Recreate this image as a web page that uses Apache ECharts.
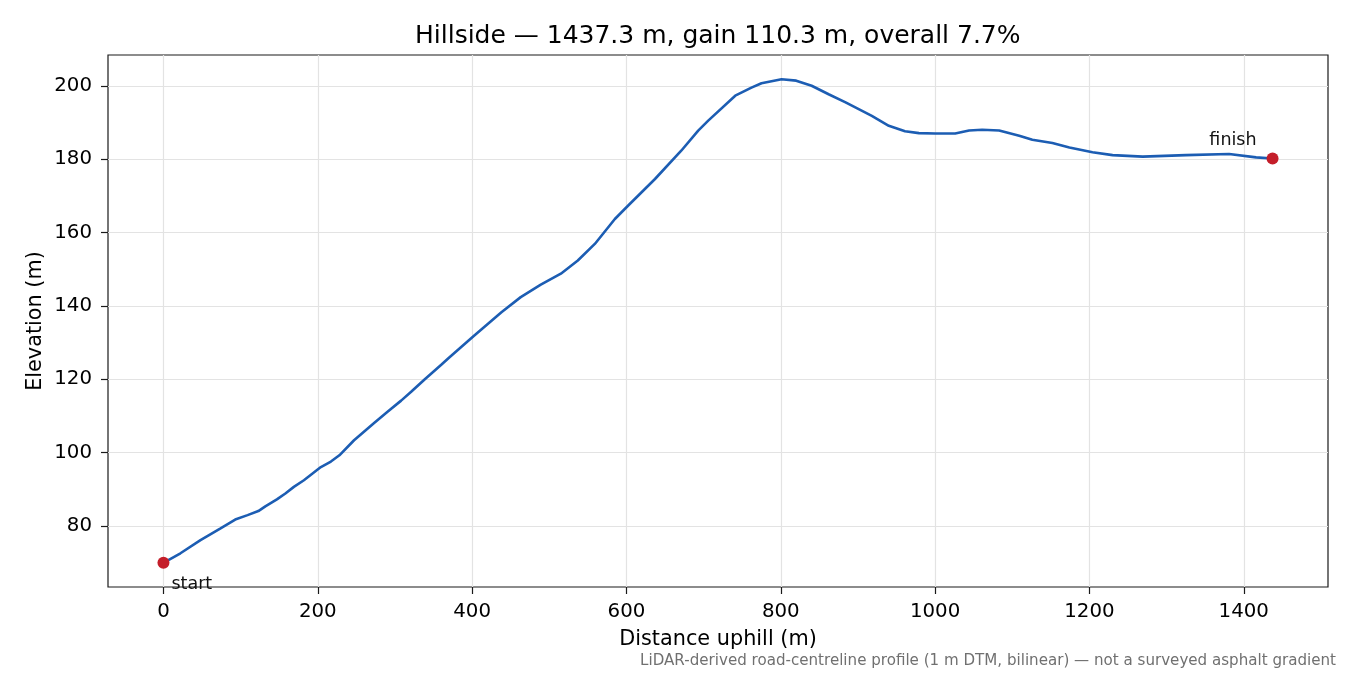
<!DOCTYPE html>
<html>
<head>
<meta charset="utf-8">
<script src="https://cdn.jsdelivr.net/npm/echarts@6/dist/echarts.min.js"></script>
<style>
  html, body { margin: 0; padding: 0; background: #fff; }
  #chart { width: 1350px; height: 675px; }
</style>
</head>
<body>
<div id="chart"></div>
<script>
// distance along road (m) and elevation (m)
const distance = [0, 22, 48, 74, 93, 109, 123, 132, 147, 158, 169, 182, 204, 217, 228, 247, 273, 290, 308, 321,
    338, 360, 370, 401, 438, 463, 489, 515, 537, 559, 585, 602, 637, 671, 693, 706, 741, 762, 775, 801, 820, 840, 862,
    884, 918, 940, 961, 979, 1000, 1026, 1044, 1061, 1083, 1109, 1126, 1152, 1174, 1204, 1230, 1269, 1325, 1381, 1416, 1437.3];
const elevation = [70.0, 72.6, 76.2, 79.4, 81.8, 83.0, 84.1, 85.4, 87.3, 88.9, 90.7, 92.5, 96.1, 97.6, 99.3, 103.4, 108.1, 111.1, 114.2, 116.6,
    119.9, 124.0, 125.9, 131.6, 138.3, 142.4, 145.8, 148.8, 152.4, 156.9, 163.7, 167.3, 174.6, 182.3, 187.8, 190.5, 197.3, 199.5, 200.7, 201.8, 201.4, 200.0, 197.7,
    195.5, 191.8, 189.1, 187.6, 187.1, 187.0, 187.0, 187.8, 188.0, 187.8, 186.4, 185.3, 184.4, 183.2, 181.9, 181.1, 180.7, 181.1, 181.4, 180.5, 180.2];

const xTicks = [0, 200, 400, 600, 800, 1000, 1200, 1400];
const yTicks = [80, 100, 120, 140, 160, 180, 200];

const endpoints = [
    { name: 'start', idx: 0 },
    { name: 'finish', idx: distance.length - 1 }
];

let profile = [];
for (let i = 0; i < distance.length; i++) {
    profile.push([distance[i], elevation[i]]);
}

// 5% padding on both axes, like the original plot
let xMin = distance[0], xMax = distance[distance.length - 1];
let yMin = Math.min(...elevation), yMax = Math.max(...elevation);
let xPad = (xMax - xMin) * 0.05, yPad = (yMax - yMin) * 0.05;

const font = 'DejaVu Sans';
let chart = echarts.init(document.getElementById('chart'));
let option = {
    animation: false,
    textStyle: { fontFamily: font },
    title: [{
        text: 'Hillside \u2014 1437.3 m, gain 110.3 m, overall 7.7%',
        left: 410,
        top: 19,
        textStyle: { fontFamily: font, fontSize: 25, fontWeight: 'normal', color: '#000' }
    }, {
        text: 'LiDAR-derived road-centreline profile (1 m DTM, bilinear) \u2014 not a surveyed asphalt gradient',
        right: 9,
        top: 649,
        textStyle: { fontFamily: font, fontSize: 15.1, fontWeight: 'normal', color: '#707070' }
    }],
    grid: {
        left: 108,
        right: 22,
        top: 55,
        bottom: 88,
        show: true,
        borderColor: '#1a1a1a',
        borderWidth: 1.2,
        containLabel: false
    },
    xAxis: {
        type: 'value',
        min: xMin - xPad,
        max: xMax + xPad,
        name: 'Distance uphill (m)',
        nameLocation: 'middle',
        nameGap: 42,
        nameTextStyle: { fontFamily: font, fontSize: 20.8, color: '#000' },
        axisLine: { show: false, onZero: false },
        axisTick: { show: true, inside: false, length: 7, customValues: xTicks, lineStyle: { color: '#1a1a1a', width: 1.2 } },
        axisLabel: {
            customValues: xTicks, margin: 15, fontFamily: font, fontSize: 19.8, color: '#000',
            formatter: function (v) { return String(v); }
        },
        splitLine: { show: true, lineStyle: { color: '#e3e3e3', width: 1.2 } }
    },
    yAxis: {
        type: 'value',
        min: yMin - yPad,
        max: yMax + yPad,
        name: 'Elevation (m)',
        nameLocation: 'middle',
        nameRotate: 90,
        nameGap: 62,
        nameMoveOverlap: false,
        nameTextStyle: { fontFamily: font, fontSize: 20.8, color: '#000' },
        axisLine: { show: false, onZero: false },
        axisTick: { show: true, inside: false, length: 7, customValues: yTicks, lineStyle: { color: '#1a1a1a', width: 1.2 } },
        axisLabel: {
            customValues: yTicks, margin: 16, fontFamily: font, fontSize: 19.8, color: '#000',
            formatter: function (v) { return String(v); }
        },
        splitLine: { show: true, lineStyle: { color: '#e3e3e3', width: 1.2 } }
    },
    series: [{
        type: 'line',
        data: profile,
        showSymbol: false,
        smooth: false,
        lineStyle: { color: '#1c5db3', width: 2.6 },
        z: 2
    }, {
        type: 'scatter',
        symbolSize: 12,
        itemStyle: { color: '#c41e2a', opacity: 1 },
        z: 3,
        data: endpoints.map(function (p) {
            let isStart = p.idx === 0;
            return {
                value: [distance[p.idx], elevation[p.idx]],
                label: {
                    show: true,
                    formatter: p.name,
                    position: 'inside',
                    align: isStart ? 'left' : 'right',
                    verticalAlign: 'middle',
                    offset: isStart ? [8, 22] : [-16, -18],
                    fontFamily: font,
                    fontSize: 17.5,
                    color: '#111'
                }
            };
        })
    }]
};
chart.setOption(option);
</script>
</body>
</html>
